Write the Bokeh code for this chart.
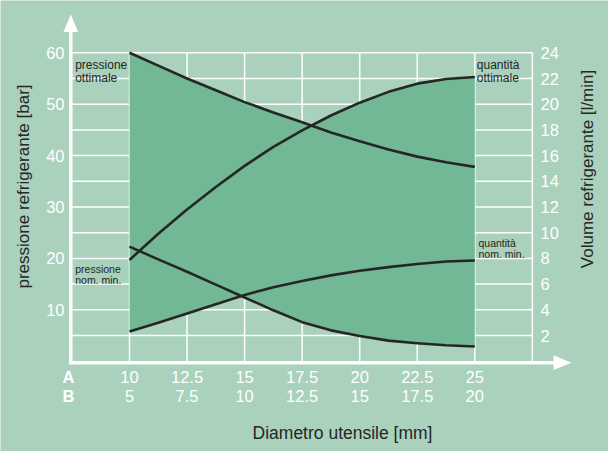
import numpy as np
from bokeh.plotting import figure
from bokeh.models import Range1d
from bokeh.core.properties import value
from bokeh.embed import file_html
from bokeh.resources import INLINE

# ---------------- data ----------------
# Diametro utensile A [mm] at which the curves were read
diam_a = [10, 11.25, 12.5, 13.75, 15, 16.25, 17.5, 18.75, 20, 21.25, 22.5, 23.75, 25]
# axis ticks
tick_a = [10, 12.5, 15, 17.5, 20, 22.5, 25]
tick_a_labels = ["10", "12.5", "15", "17.5", "20", "22.5", "25"]
tick_b_labels = ["5", "7.5", "10", "12.5", "15", "17.5", "20"]

pressione_ottimale = [60.0, 57.5, 55.0, 52.7, 50.4, 48.4, 46.5, 44.5, 42.8, 41.2, 39.8, 38.7, 37.8]  # bar
pressione_nom_min = [22.3, 19.8, 17.4, 14.9, 12.4, 9.9, 7.6, 6.0, 4.9, 4.0, 3.5, 3.1, 2.85]          # bar
quantita_ottimale = [7.88, 9.92, 11.8, 13.56, 15.2, 16.68, 17.96, 19.12, 20.12, 20.96, 21.6, 21.96, 22.12]  # l/min
quantita_nom_min = [2.32, 3.0, 3.72, 4.44, 5.16, 5.76, 6.24, 6.68, 7.04, 7.32, 7.56, 7.76, 7.84]           # l/min

bar_ticks = [10, 20, 30, 40, 50, 60]
lmin_ticks = [2, 4, 6, 8, 10, 12, 14, 16, 18, 20, 22, 24]
bar_grid = [5, 10, 15, 20, 25, 30, 35, 40, 45, 50, 55, 60]
x_right_edge = 27.5
BAR_PER_LMIN = 2.5

# ---------------- styling / pixel mapping ----------------
BG = "#a9d1bb"
FILL = "#72b895"
WHITE = "#ffffff"
DARK = "#262626"
FONT = value("Liberation Sans")

SX = 23.02      # px per mm (A)
PX10 = 137.0    # page x of A = 10
SY = 5.14       # px per bar
PY0 = 368.7     # page y of 0 bar


def X(px):
    return 10 + (px - PX10) / SX


def Y(py):
    return (PY0 - py) / SY


p = figure(width=608, height=451, min_border=0,
           x_range=Range1d(X(8), X(616)), y_range=Range1d(Y(459), Y(8)),
           x_axis_location=None, y_axis_location=None,
           toolbar_location=None, output_backend="svg")
p.extra_y_ranges = {"q": Range1d(Y(459) / BAR_PER_LMIN, Y(8) / BAR_PER_LMIN)}
p.grid.visible = False
p.outline_line_color = None
p.background_fill_color = BG
p.border_fill_color = BG

x_left = X(78.3)

# grid
vx = tick_a + [x_right_edge]
p.multi_line(xs=[[v, v] for v in vx], ys=[[0, max(bar_grid)] for _ in vx],
             line_color=WHITE, line_width=1.5)
p.multi_line(xs=[[x_left, x_right_edge] for _ in bar_grid], ys=[[g, g] for g in bar_grid],
             line_color=WHITE, line_width=1.5)

# filled envelope
xd = np.linspace(diam_a[0], diam_a[-1], 601)
po = np.interp(xd, diam_a, pressione_ottimale)
pm = np.interp(xd, diam_a, pressione_nom_min)
qo = np.interp(xd, diam_a, quantita_ottimale) * BAR_PER_LMIN
qm = np.interp(xd, diam_a, quantita_nom_min) * BAR_PER_LMIN
p.varea(x=xd, y1=np.minimum(pm, qm), y2=np.maximum(po, qo), fill_color=FILL)

# curves
lk = dict(line_color=DARK, line_width=2.6, line_join="round")
p.line(diam_a, pressione_ottimale, **lk)
p.line(diam_a, pressione_nom_min, **lk)
p.line(diam_a, quantita_ottimale, y_range_name="q", **lk)
p.line(diam_a, quantita_nom_min, y_range_name="q", **lk)

# axes with arrows
p.line([x_left, x_left], [Y(370.2), Y(30)], line_color=WHITE, line_width=3.5)
p.line([X(76.5), X(565)], [Y(370.2), Y(370.2)], line_color=WHITE, line_width=3.5)
p.patches(xs=[[X(78.3), X(70.9), X(85.7)], [X(579), X(561), X(561)]],
          ys=[[Y(22), Y(39.5), Y(39.5)], [Y(370.2), Y(362.8), Y(377.6)]],
          fill_color=WHITE, line_color=None)

# tick labels
p.text(x=[X(72)] * len(bar_ticks), y=bar_ticks, text=[str(t) for t in bar_ticks],
       text_font=FONT, text_font_size="16.5px", text_color=WHITE,
       text_align="right", text_baseline="middle")
p.text(x=[X(548)] * len(lmin_ticks), y=lmin_ticks, text=[str(t) for t in lmin_ticks],
       y_range_name="q", text_font=FONT, text_font_size="16.5px", text_color=WHITE,
       text_align="left", text_baseline="middle")
p.text(x=tick_a, y=[Y(384)] * len(tick_a), text=tick_a_labels,
       text_font=FONT, text_font_size="16.5px", text_color=WHITE,
       text_align="center", text_baseline="middle")
p.text(x=tick_a, y=[Y(403)] * len(tick_a), text=tick_b_labels,
       text_font=FONT, text_font_size="16.5px", text_color=WHITE,
       text_align="center", text_baseline="middle")
p.text(x=[X(76), X(76)], y=[Y(384), Y(403)], text=["A", "B"],
       text_font=FONT, text_font_size="16.5px", text_font_style="bold",
       text_color=WHITE, text_align="center", text_baseline="middle")

# axis titles
p.text(x=[X(350)], y=[Y(440)], text=["Diametro utensile [mm]"],
       text_font=FONT, text_font_size="17.5px", text_color=DARK,
       text_align="center", text_baseline="middle")
p.text(x=[X(31)], y=[Y(194)], text=["pressione refrigerante [bar]"], angle=np.pi / 2,
       text_font=FONT, text_font_size="17px", text_color=DARK,
       text_align="center", text_baseline="middle")
p.text(x=[X(595)], y=[Y(176.5)], text=["Volume refrigerante [l/min]"], angle=np.pi / 2,
       text_font=FONT, text_font_size="17px", text_color=DARK,
       text_align="center", text_baseline="middle")

# cell labels
p.text(x=[X(82.7), X(82.7), X(484.3), X(484.3)],
       y=[Y(72.5), Y(85), Y(72.5), Y(85)],
       text=["pressione", "ottimale", "quantità", "ottimale"],
       text_font=FONT, text_font_size="12px", text_color=DARK,
       text_align="left", text_baseline="alphabetic")
p.text(x=[X(82.7), X(82.7), X(486), X(486)],
       y=[Y(276.7), Y(287.7), Y(250), Y(261.5)],
       text=["pressione", "nom. min.", "quantità", "nom. min."],
       text_font=FONT, text_font_size="10.5px", text_color=DARK,
       text_align="left", text_baseline="alphabetic")

open("out.html", "w").write(file_html(p, INLINE))
